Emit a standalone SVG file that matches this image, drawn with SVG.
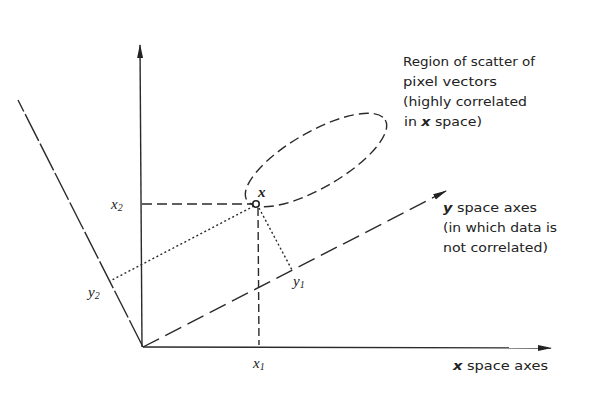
<svg xmlns="http://www.w3.org/2000/svg" width="614" height="401" viewBox="0 0 614 401">
<defs>
<marker id="arr" markerWidth="14" markerHeight="8" refX="13" refY="4" orient="auto" markerUnits="userSpaceOnUse">
<path d="M0,1 L14,4 L0,7 Z" fill="#222"/>
</marker>
<style>
.ln{stroke:#2a2a2a;stroke-width:1.4;fill:none}
.t{font-family:"DejaVu Sans","Liberation Sans",sans-serif;font-size:13px;fill:#222}
.lab{font-family:"Liberation Serif","DejaVu Serif",serif;font-style:italic;font-size:15px;fill:#222}
.b{font-weight:bold;font-style:italic}
</style>
</defs>
<rect width="614" height="401" fill="#fff"/>
<g id="connectors">
<line id="x1-axis" class="ln" x1="143" y1="347" x2="551" y2="348" marker-end="url(#arr)"/>
<line id="x2-axis" class="ln" x1="142" y1="347" x2="140" y2="45" marker-end="url(#arr)"/>
<line id="y1-axis" class="ln" x1="143" y1="347" x2="446" y2="191" stroke-dasharray="18,7" marker-end="url(#arr)"/>
<line id="y2-axis" class="ln" x1="143" y1="347" x2="18" y2="100" stroke-dasharray="30,3"/>
<line id="proj-x2" class="ln" x1="142" y1="204" x2="253" y2="204" stroke-dasharray="10,5"/>
<line id="proj-x1" class="ln" x1="258" y1="208" x2="259" y2="345" stroke-dasharray="8,4"/>
<line id="proj-y2" class="ln" x1="254" y1="206" x2="110" y2="281" stroke-dasharray="2,2.5"/>
<line id="proj-y1" class="ln" x1="259" y1="208" x2="292" y2="270" stroke-dasharray="2,2.5"/>
</g>
<g id="scatter">
<ellipse class="ln" cx="316" cy="160" rx="80" ry="28" transform="rotate(-30 316 160)" stroke-dasharray="10,5"/>
</g>
<g id="point-x">
<circle cx="256" cy="204" r="3.2" fill="#fff" stroke="#222" stroke-width="1.6"/>
<text class="lab b" x="258" y="197" font-size="15">x</text>
</g>
<g id="axis-labels">
<text class="lab" x="111" y="209">x<tspan font-size="10" dy="2">2</tspan></text>
<text class="lab" x="253" y="368">x<tspan font-size="10" dy="2">1</tspan></text>
<text class="lab" x="88" y="297">y<tspan font-size="10" dy="2">2</tspan></text>
<text class="lab" x="293" y="286">y<tspan font-size="10" dy="2">1</tspan></text>
</g>
<g id="region-label">
<text class="t" x="403" y="66" textLength="132" lengthAdjust="spacingAndGlyphs">Region of scatter of</text>
<text class="t" x="403" y="86" textLength="94" lengthAdjust="spacingAndGlyphs">pixel  vectors</text>
<text class="t" x="403" y="106" textLength="124" lengthAdjust="spacingAndGlyphs">(highly correlated</text>
<text class="t" x="404" y="126" textLength="78" lengthAdjust="spacingAndGlyphs">in <tspan class="b">x</tspan> space)</text>
</g>
<g id="y-axes-label">
<text class="t" x="443" y="212" textLength="94" lengthAdjust="spacingAndGlyphs"><tspan class="b">y</tspan> space axes</text>
<text class="t" x="443" y="232" textLength="114" lengthAdjust="spacingAndGlyphs">(in which data is</text>
<text class="t" x="443" y="252" textLength="105" lengthAdjust="spacingAndGlyphs">not correlated)</text>
</g>
<g id="x-axes-label">
<text class="t" x="453" y="370" textLength="95" lengthAdjust="spacingAndGlyphs"><tspan class="b">x</tspan> space axes</text>
</g>
</svg>
